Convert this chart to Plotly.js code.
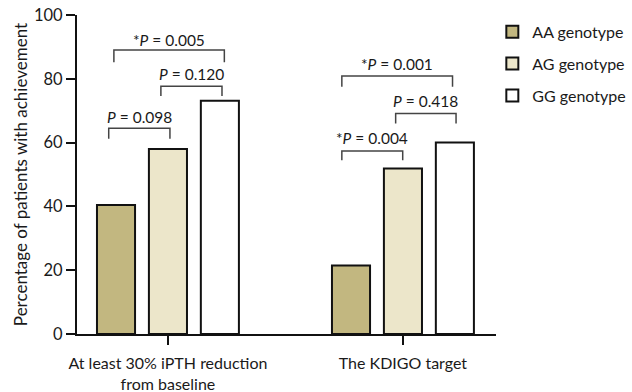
<!DOCTYPE html>
<html>
<head>
<meta charset="utf-8">
<script src="https://cdn.plot.ly/plotly-3.0.1.min.js"></script>
<style>html,body{margin:0;padding:0;background:#fff;}#chart{width:632px;height:392px;}</style>
</head>
<body>
<div id="chart"></div>
<script>
// ---- data ----
const categories = ["At least 30% iPTH reduction<br>from baseline", "The KDIGO target"];
const seriesNames = ["AA genotype", "AG genotype", "GG genotype"];
const aaValues = [40.4, 21.5];
const agValues = [58.0, 51.9];
const ggValues = [73.1, 60.0];
const pLabels = ["<i>P</i> = 0.098", "<i>P</i> = 0.120", "*<i>P</i> = 0.005",
                 "*<i>P</i> = 0.001", "<i>P</i> = 0.418", "*<i>P</i> = 0.004"];

// ---- layout helpers (positions of comparison brackets) ----
const brackets = [
  {x0: -0.252, x1: 0.0085, y: 64.5, yEnd: 61.2, ty: 68.0},
  {x0: -0.030, x1: 0.230,  y: 77.7, yEnd: 74.6, ty: 81.4},
  {x0: -0.230, x1: 0.240,  y: 89.0, yEnd: 85.2, ty: 92.1},
  {x0: 0.740,  x1: 1.211,  y: 80.9, yEnd: 77.5, ty: 84.6},
  {x0: 0.969,  x1: 1.226,  y: 69.1, yEnd: 66.0, ty: 73.0},
  {x0: 0.740,  x1: 0.999,  y: 57.4, yEnd: 54.5, ty: 61.5}
];

const fillColors = ["#c2b780", "#ece6ca", "#ffffff"];
const values = [aaValues, agValues, ggValues];
const FONT = "Lato, 'Open Sans', sans-serif";

const traces = values.map((v, i) => ({
  type: "bar",
  name: seriesNames[i],
  x: categories,
  y: v,
  legendgroup: "g" + i,
  marker: {color: fillColors[i], line: {color: "#111", width: 2}},
  hoverinfo: "skip"
}));

const shapes = [];
const annotations = [];
brackets.forEach((b, i) => {
  shapes.push({type: "path", xref: "x", yref: "y", layer: "above",
    path: `M ${b.x0},${b.yEnd} L ${b.x0},${b.y} L ${b.x1},${b.y} L ${b.x1},${b.yEnd}`,
    line: {color: "#444", width: 1.5}});
  annotations.push({xref: "x", yref: "y", x: (b.x0 + b.x1) / 2, y: b.ty,
    text: pLabels[i], showarrow: false, xanchor: "center", yanchor: "middle",
    font: {family: FONT, size: 15.5, color: "#1a1a1a"}});
});

const layout = {
  width: 632, height: 392,
  margin: {l: 77, r: 136, t: 15, b: 58, autoexpand: false},
  paper_bgcolor: "#fff", plot_bgcolor: "#fff",
  barmode: "group", bargap: 0.337, bargroupgap: 0.267,
  font: {family: FONT, size: 16, color: "#1a1a1a"},
  xaxis: {type: "category", range: [-0.387, 1.396], showline: true, linecolor: "#111", linewidth: 2,
          ticks: "outside", ticklen: 9, tickwidth: 2, tickcolor: "#111", showgrid: false, zeroline: false,
          ticklabelstandoff: 5, automargin: false,
          tickfont: {family: FONT, size: 16, color: "#1a1a1a"}, fixedrange: true},
  yaxis: {range: [0, 100], dtick: 20, showline: true, linecolor: "#111", linewidth: 2,
          ticks: "outside", ticklen: 9, tickwidth: 2, tickcolor: "#111", showgrid: false, zeroline: false,
          automargin: false,
          tickfont: {family: FONT, size: 16.5, color: "#1a1a1a"},
          title: {text: "Percentage of patients with achievement", standoff: 2,
                  font: {family: FONT, size: 17, color: "#1a1a1a"}},
          fixedrange: true},
  showlegend: true,
  legend: {xref: "container", yref: "container", x: 0.779, xanchor: "left", y: 0.962, yanchor: "top",
           tracegroupgap: 8,
           font: {family: FONT, size: 16, color: "#1a1a1a"}, bgcolor: "rgba(0,0,0,0)"},
  shapes: shapes,
  annotations: annotations
};

Plotly.newPlot("chart", traces, layout, {displayModeBar: false, staticPlot: true});
</script>
</body>
</html>
